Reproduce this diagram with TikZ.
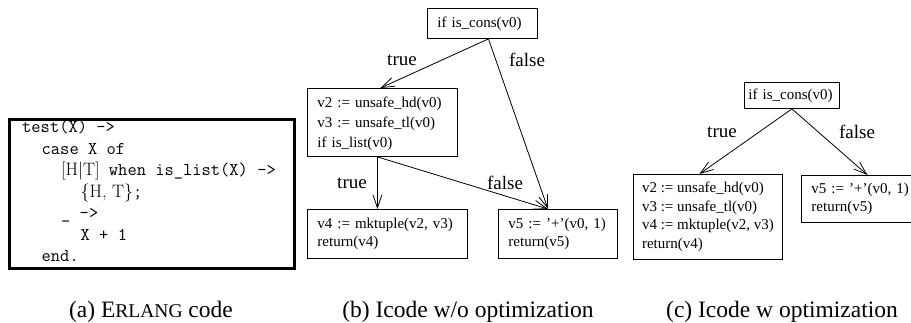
\documentclass[tikz,border=0pt]{standalone}
\usepackage{fontspec}
\setmainfont{Liberation Serif}
\newfontfamily\cmr{Latin Modern Roman}
\usetikzlibrary{arrows.meta}
\begin{document}
\begin{tikzpicture}[x=1pt,y=-1pt,
  blk/.style={draw, line width=0.9pt, anchor=north west, align=left,
    inner xsep=10pt, inner ysep=0pt, font=\fontsize{15}{18.5}\selectfont},
  arr/.style={line width=0.8pt, -{Straight Barb[length=13pt,width=9pt]}},
  lbl/.style={inner sep=0pt, font=\fontsize{19}{22}\selectfont},
  capt/.style={anchor=base, inner sep=0pt, font=\fontsize{23.5}{26}\selectfont},
  codetext/.style={anchor=north west, align=left, inner sep=0pt,
    font=\ttfamily\fontsize{18}{21.5}\selectfont},
  codeframe/.style={draw, line width=2.6pt, anchor=north west, inner sep=0pt}]
\useasboundingbox (0,0) rectangle (911,322);
\clip (0,0) rectangle (911,322);

% (a) code
\node[codeframe, minimum width=285pt, minimum height=149pt] (codebox) at (8,118) {};
\node[codetext] (code) at (22,120) {test(X) ->\\
\hspace*{19.5pt}case X of\\
\hspace*{39pt}{\cmr [H|T]} when is\_list(X) ->\\
\hspace*{58.5pt}{\cmr \{H, T\}};\\
\hspace*{39pt}\_ ->\\
\hspace*{58.5pt}X + 1\\
\hspace*{19.5pt}end.};

% (b) icode without optimization
\node[blk, text width=90pt, minimum height=30pt] (b1) at (427,8) {if is\_cons(v0)};
\node[blk, text width=130pt, minimum height=68pt, font=\fontsize{15}{20}\selectfont] (b2) at (307,88)
  {\rule{0pt}{14pt}v2 := unsafe\_hd(v0)\\ v3 := unsafe\_tl(v0)\\ if is\_list(v0)};
\node[blk, text width=140pt, minimum height=49pt] (b4) at (307,209)
  {v4 := mktuple(v2, v3)\\ return(v4)};
\node[blk, text width=99pt, minimum height=49pt] (b5) at (498,209)
  {v5 := '+'(v0, 1)\\ return(v5)};

\draw[arr] ([xshift=6pt]b1.south) -- ([xshift=-2pt]b2.north);
\draw[arr] ([xshift=6pt]b1.south) -- ([xshift=-10pt]b5.north);
\draw[arr] ([xshift=-5pt]b2.south) -- ([xshift=-10pt]b4.north);
\draw[arr] ([xshift=-5pt]b2.south) -- ([xshift=-10pt]b5.north);

\node[lbl] (t1) at (402,60) {true};
\node[lbl] (f1) at (527,60) {false};
\node[lbl] (t2) at (352,183) {true};
\node[lbl] (f2) at (505,183) {false};

% (c) icode with optimization
\node[blk, inner xsep=4pt, text width=87pt, minimum height=26pt] (c1) at (744,82) {if is\_cons(v0)};
\node[blk, inner xsep=0pt, minimum width=149pt, minimum height=85pt] (c2) at (633,174)
  {v2 := unsafe\_hd(v0)\\ v3 := unsafe\_tl(v0)\\ v4 := mktuple(v2, v3)\\ return(v4)};
\node[blk, text width=99pt, minimum height=47pt] (c3) at (801,175)
  {v5 := '+'(v0, 1)\\ return(v5)};

\draw[arr] (c1.south) -- ([xshift=-8.5pt]c2.north);
\draw[arr] (c1.south) -- ([xshift=6.5pt]c3.north);

\node[lbl] (t3) at (722,132) {true};
\node[lbl] (f3) at (857,132) {false};

% captions
\node[capt] (ca) at (151,317) {(a) E{\fontsize{19.5}{22}\selectfont RLANG} code};
\node[capt] (cb) at (468,317) {(b) Icode w/o optimization};
\node[capt] (cc) at (782,317) {(c) Icode w optimization};
\end{tikzpicture}
\end{document}
